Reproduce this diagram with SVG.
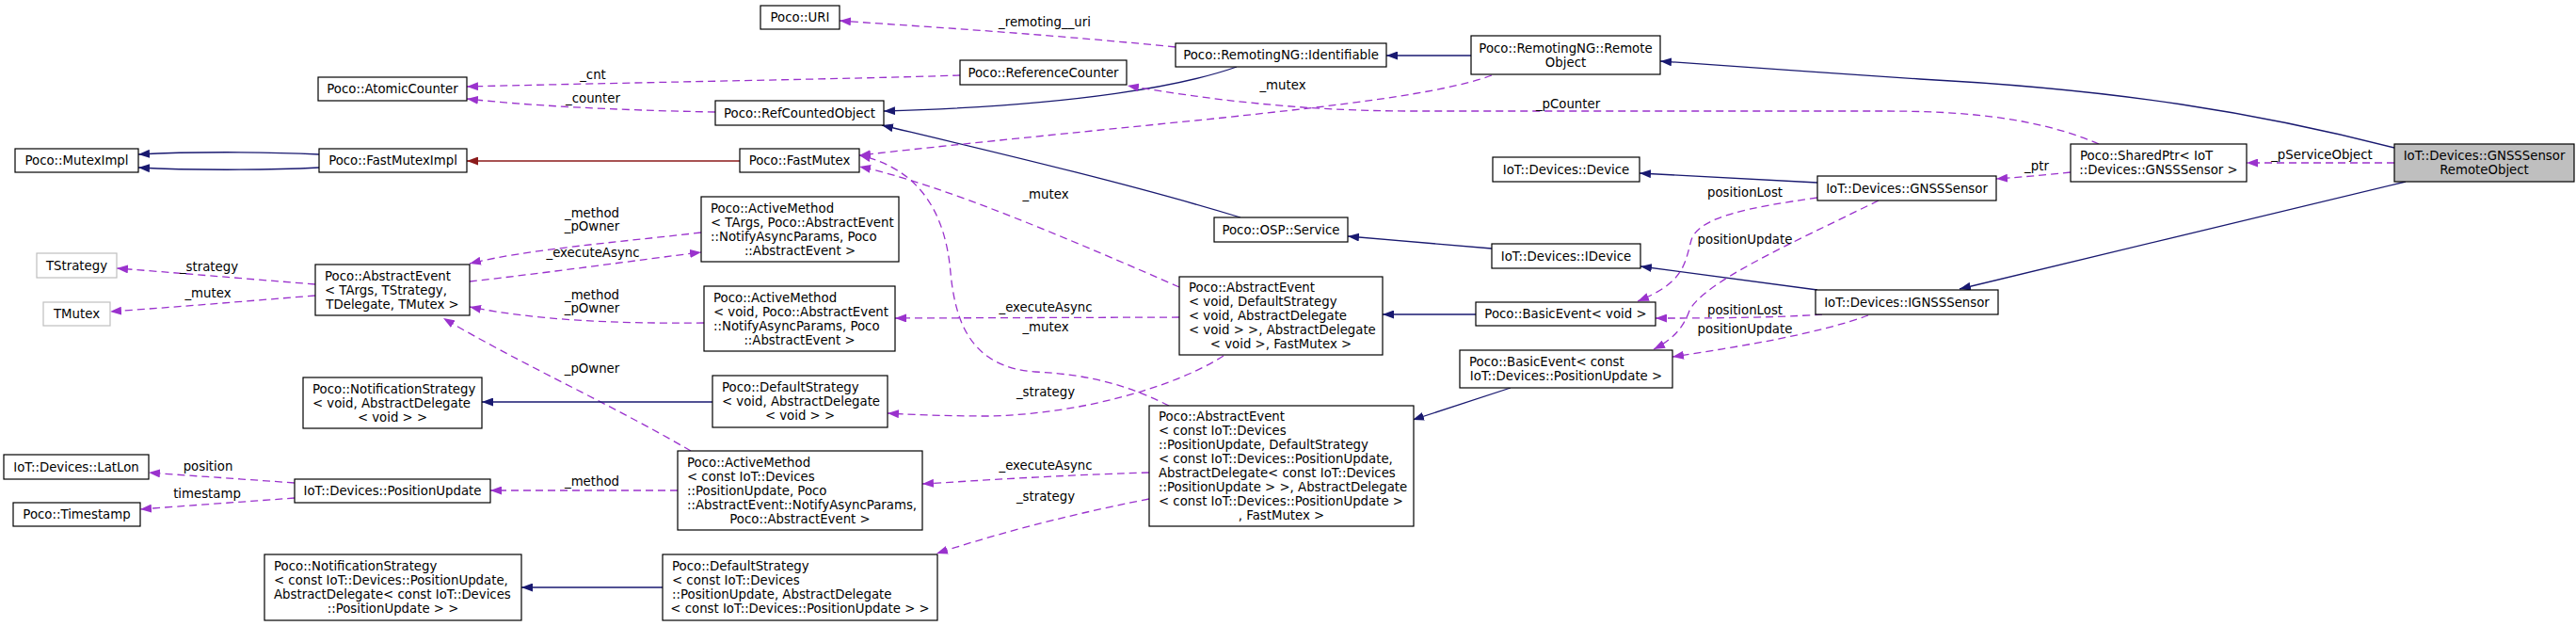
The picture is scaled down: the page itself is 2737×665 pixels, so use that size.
<svg xmlns="http://www.w3.org/2000/svg" width="2737" height="665" viewBox="0 0 2737 665">
<style>
text{font-family:"DejaVu Sans","Liberation Sans",sans-serif;font-size:13.3px;fill:#000}
.n rect{fill:#fff;stroke:#000;stroke-width:1.2}
.n.g rect{stroke:#bfbfbf}
.n.s rect{fill:#bfbfbf}
.c{text-anchor:middle}
.e path{fill:none;stroke-width:1.3}
.b{stroke:#191970;marker-end:url(#mb)}
.u{stroke:#9a32cd;stroke-dasharray:8,5;marker-end:url(#mu)}
.r{stroke:#8b1a1a;marker-end:url(#mr)}
.lb text{text-anchor:middle}
</style>
<defs>
<marker id="mb" viewBox="0 0 12 9" refX="12" refY="4.5" markerWidth="12" markerHeight="9" orient="auto" markerUnits="userSpaceOnUse"><path d="M0,0 L12,4.5 L0,9 z" fill="#191970"/></marker>
<marker id="mu" viewBox="0 0 12 9" refX="12" refY="4.5" markerWidth="12" markerHeight="9" orient="auto" markerUnits="userSpaceOnUse"><path d="M0,0 L12,4.5 L0,9 z" fill="#9a32cd"/></marker>
<marker id="mr" viewBox="0 0 12 9" refX="12" refY="4.5" markerWidth="12" markerHeight="9" orient="auto" markerUnits="userSpaceOnUse"><path d="M0,0 L12,4.5 L0,9 z" fill="#8b1a1a"/></marker>
</defs>
<rect width="2737" height="665" fill="#fff"/>
<g id="connectors" class="e">
<path class="b" d="M339,164 C280,161 200,161 147,164"/>
<path class="b" d="M339,178 C280,181 200,181 147,178"/>
<path class="r" d="M786,171 L496,171"/>
<path class="u" d="M1020,80 C900,84 700,87 496,92"/>
<path class="u" d="M760,119 C650,117 560,112 496,105"/>
<path class="u" d="M1249,50 C1100,35 960,27 892,22"/>
<path class="b" d="M1563,59 L1473,59"/>
<path class="b" d="M1314,71 C1260,90 1150,112 939,118"/>
<path class="b" d="M1318,231 C1200,195 1050,160 937,133"/>
<path class="u" d="M2230,153 C2160,123 2080,118 2000,118 L1500,118 C1380,118 1280,105 1198,91"/>
<path class="u" d="M1585,80 C1530,100 1420,112 1300,125 C1150,140 1000,155 913,165"/>
<path class="u" d="M1253,305 C1150,260 1000,195 913,177"/>
<path class="u" d="M1242,431 C1200,410 1160,398 1100,395 C1030,390 1015,340 1010,290 C1005,230 980,180 913,165"/>
<path class="u" d="M745,247 C650,258 560,265 499,280"/>
<path class="u" d="M499,299 C580,290 680,276 745,268"/>
<path class="u" d="M748,343 C650,344 570,340 499,326"/>
<path class="u" d="M734,479 C650,430 550,385 471,338"/>
<path class="u" d="M335,302 C260,296 190,290 124,285"/>
<path class="u" d="M335,314 C260,320 190,326 117,331"/>
<path class="u" d="M1253,337 L951,338"/>
<path class="u" d="M1300,378 C1250,410 1150,440 1050,442 C1000,442 960,440 943,439"/>
<path class="b" d="M757,427 L512,427"/>
<path class="u" d="M1221,502 C1120,505 1050,510 980,514"/>
<path class="u" d="M1221,530 C1120,550 1050,570 995,588"/>
<path class="b" d="M704,624 L554,624"/>
<path class="u" d="M720,521 L521,521"/>
<path class="u" d="M313,513 C260,509 210,506 158,502"/>
<path class="u" d="M313,529 C260,533 200,537 149,541"/>
<path class="b" d="M1585,264 L1432,251"/>
<path class="b" d="M1931,194 L1742,184"/>
<path class="b" d="M1931,308 L1743,283"/>
<path class="b" d="M1568,334 L1469,334"/>
<path class="b" d="M1605,412 L1501,446"/>
<path class="u" d="M1931,210 C1860,220 1805,230 1797,255 C1790,280 1790,300 1740,320"/>
<path class="u" d="M1996,213 C1900,260 1810,300 1795,330 C1788,350 1775,362 1757,371"/>
<path class="u" d="M1936,334 C1880,338 1800,338 1759,338"/>
<path class="u" d="M1985,335 C1930,355 1850,368 1777,379"/>
<path class="u" d="M2200,183 C2170,186 2150,188 2121,190"/>
<path class="u" d="M2544,173 L2387,173"/>
<path class="b" d="M2544,157 C2400,120 2250,95 2040,84 C1950,78 1850,71 1764,65"/>
<path class="b" d="M2556,193 L2082,307"/>
</g>
<g id="edge-labels" class="lb">
<text x="630" y="84">_cnt</text>
<text x="630" y="109">_counter</text>
<text x="1110" y="28">_remoting__uri</text>
<text x="1666" y="115">_pCounter</text>
<text x="1363" y="95">_mutex</text>
<text x="1111" y="211">_mutex</text>
<text x="1111" y="352">_mutex</text>
<text x="629" y="231">_method</text>
<text x="629" y="245">_pOwner</text>
<text x="630" y="273">_executeAsync</text>
<text x="629" y="318">_method</text>
<text x="629" y="332">_pOwner</text>
<text x="629" y="396">_pOwner</text>
<text x="222" y="288">_strategy</text>
<text x="221" y="316">_mutex</text>
<text x="1111" y="331">_executeAsync</text>
<text x="1111" y="421">_strategy</text>
<text x="1111" y="499">_executeAsync</text>
<text x="1111" y="532">_strategy</text>
<text x="629" y="516">_method</text>
<text x="221" y="500">position</text>
<text x="220" y="529">timestamp</text>
<text x="1854" y="209">positionLost</text>
<text x="1854" y="259">positionUpdate</text>
<text x="1854" y="334">positionLost</text>
<text x="1854" y="354">positionUpdate</text>
<text x="2164" y="181">_ptr</text>
<text x="2467" y="169">_pServiceObject</text>
</g>
<g id="n-mutex-impl" class="n"><rect x="16" y="158" width="131" height="25"/><text class="c" x="81.5" y="175">Poco::MutexImpl</text></g>
<g id="n-fast-mutex-impl" class="n"><rect x="339" y="158" width="157" height="25"/><text class="c" x="417.5" y="175">Poco::FastMutexImpl</text></g>
<g id="n-atomic-counter" class="n"><rect x="338" y="82" width="158" height="25"/><text class="c" x="417" y="99">Poco::AtomicCounter</text></g>
<g id="n-tstrategy" class="n g"><rect x="39" y="269" width="85" height="26"/><text class="c" x="81.5" y="286.5">TStrategy</text></g>
<g id="n-tmutex" class="n g"><rect x="46" y="321" width="71" height="25"/><text class="c" x="81.5" y="338">TMutex</text></g>
<g id="n-abstract-event-targs" class="n"><rect x="335" y="281" width="164" height="54"/><text x="345" y="297.5">Poco::AbstractEvent</text><text x="345" y="312.5">&lt; TArgs, TStrategy,</text><text class="c" x="417" y="327.5">TDelegate, TMutex &gt;</text></g>
<g id="n-notification-strategy-void" class="n"><rect x="322" y="401" width="190" height="54"/><text x="332" y="417.5">Poco::NotificationStrategy</text><text x="332" y="432.5">&lt; void, AbstractDelegate</text><text class="c" x="417" y="447.5">&lt; void &gt; &gt;</text></g>
<g id="n-latlon" class="n"><rect x="4" y="483" width="154" height="26"/><text class="c" x="81" y="500.5">IoT::Devices::LatLon</text></g>
<g id="n-timestamp" class="n"><rect x="14" y="534" width="135" height="25"/><text class="c" x="81.5" y="551">Poco::Timestamp</text></g>
<g id="n-position-update" class="n"><rect x="313" y="509" width="208" height="25"/><text class="c" x="417" y="526">IoT::Devices::PositionUpdate</text></g>
<g id="n-notification-strategy-const" class="n"><rect x="281" y="589" width="273" height="70"/><text x="291" y="606">Poco::NotificationStrategy</text><text x="291" y="621">&lt; const IoT::Devices::PositionUpdate,</text><text x="291" y="636"> AbstractDelegate&lt; const IoT::Devices</text><text class="c" x="417.5" y="651">::PositionUpdate &gt; &gt;</text></g>
<g id="n-uri" class="n"><rect x="808" y="6" width="84" height="25"/><text class="c" x="850" y="23">Poco::URI</text></g>
<g id="n-identifiable" class="n"><rect x="1249" y="46" width="224" height="25"/><text class="c" x="1361" y="63">Poco::RemotingNG::Identifiable</text></g>
<g id="n-reference-counter" class="n"><rect x="1020" y="64" width="177" height="26"/><text class="c" x="1108.5" y="81.5">Poco::ReferenceCounter</text></g>
<g id="n-ref-counted-object" class="n"><rect x="760" y="107" width="179" height="26"/><text class="c" x="849.5" y="124.5">Poco::RefCountedObject</text></g>
<g id="n-fast-mutex" class="n"><rect x="786" y="158" width="127" height="25"/><text class="c" x="849.5" y="175">Poco::FastMutex</text></g>
<g id="n-active-method-targs" class="n"><rect x="745" y="209" width="210" height="69"/><text x="755" y="225.5">Poco::ActiveMethod</text><text x="755" y="240.5">&lt; TArgs, Poco::AbstractEvent</text><text x="755" y="255.5">::NotifyAsyncParams, Poco</text><text class="c" x="850" y="270.5">::AbstractEvent &gt;</text></g>
<g id="n-active-method-void" class="n"><rect x="748" y="304" width="203" height="69"/><text x="758" y="320.5">Poco::ActiveMethod</text><text x="758" y="335.5">&lt; void, Poco::AbstractEvent</text><text x="758" y="350.5">::NotifyAsyncParams, Poco</text><text class="c" x="849.5" y="365.5">::AbstractEvent &gt;</text></g>
<g id="n-osp-service" class="n"><rect x="1290" y="231" width="142" height="26"/><text class="c" x="1361" y="248.5">Poco::OSP::Service</text></g>
<g id="n-abstract-event-void" class="n"><rect x="1253" y="294" width="216" height="83"/><text x="1263" y="310">Poco::AbstractEvent</text><text x="1263" y="325">&lt; void, DefaultStrategy</text><text x="1263" y="340">&lt; void, AbstractDelegate</text><text x="1263" y="355">&lt; void &gt; &gt;, AbstractDelegate</text><text class="c" x="1361" y="370">&lt; void &gt;, FastMutex &gt;</text></g>
<g id="n-default-strategy-void" class="n"><rect x="757" y="399" width="186" height="55"/><text x="767" y="416">Poco::DefaultStrategy</text><text x="767" y="431">&lt; void, AbstractDelegate</text><text class="c" x="850" y="446">&lt; void &gt; &gt;</text></g>
<g id="n-active-method-const" class="n"><rect x="720" y="479" width="260" height="84"/><text x="730" y="495.5">Poco::ActiveMethod</text><text x="730" y="510.5">&lt; const IoT::Devices</text><text x="730" y="525.5">::PositionUpdate, Poco</text><text x="730" y="540.5">::AbstractEvent::NotifyAsyncParams,</text><text class="c" x="850" y="555.5">Poco::AbstractEvent &gt;</text></g>
<g id="n-default-strategy-const" class="n"><rect x="704" y="589" width="292" height="70"/><text x="714" y="606">Poco::DefaultStrategy</text><text x="714" y="621">&lt; const IoT::Devices</text><text x="714" y="636">::PositionUpdate, AbstractDelegate</text><text class="c" x="850" y="651">&lt; const IoT::Devices::PositionUpdate &gt; &gt;</text></g>
<g id="n-abstract-event-const" class="n"><rect x="1221" y="431" width="281" height="128"/><text x="1231" y="447">Poco::AbstractEvent</text><text x="1231" y="462">&lt; const IoT::Devices</text><text x="1231" y="477">::PositionUpdate, DefaultStrategy</text><text x="1231" y="492">&lt; const IoT::Devices::PositionUpdate,</text><text x="1231" y="507"> AbstractDelegate&lt; const IoT::Devices</text><text x="1231" y="522">::PositionUpdate &gt; &gt;, AbstractDelegate</text><text x="1231" y="537">&lt; const IoT::Devices::PositionUpdate &gt;</text><text class="c" x="1361.5" y="552">, FastMutex &gt;</text></g>
<g id="n-remote-object" class="n"><rect x="1563" y="38" width="201" height="41"/><text class="c" x="1663.5" y="55.5">Poco::RemotingNG::Remote</text><text class="c" x="1663.5" y="70.5">Object</text></g>
<g id="n-device" class="n"><rect x="1586" y="167" width="156" height="26"/><text class="c" x="1664" y="184.5">IoT::Devices::Device</text></g>
<g id="n-gnss-sensor" class="n"><rect x="1931" y="187" width="190" height="26"/><text class="c" x="2026" y="204.5">IoT::Devices::GNSSSensor</text></g>
<g id="n-idevice" class="n"><rect x="1585" y="259" width="158" height="26"/><text class="c" x="1664" y="276.5">IoT::Devices::IDevice</text></g>
<g id="n-ignss-sensor" class="n"><rect x="1929" y="308" width="194" height="26"/><text class="c" x="2026" y="325.5">IoT::Devices::IGNSSSensor</text></g>
<g id="n-basic-event-void" class="n"><rect x="1568" y="321" width="191" height="25"/><text class="c" x="1663.5" y="338">Poco::BasicEvent&lt; void &gt;</text></g>
<g id="n-basic-event-const" class="n"><rect x="1551" y="372" width="226" height="40"/><text x="1561" y="388.5">Poco::BasicEvent&lt; const</text><text class="c" x="1664" y="403.5">IoT::Devices::PositionUpdate &gt;</text></g>
<g id="n-shared-ptr" class="n"><rect x="2200" y="153" width="187" height="40"/><text x="2210" y="169.5">Poco::SharedPtr&lt; IoT</text><text class="c" x="2293.5" y="184.5">::Devices::GNSSSensor &gt;</text></g>
<g id="n-gnss-sensor-remote-object" class="n s"><rect x="2544" y="153" width="191" height="40"/><text class="c" x="2639.5" y="169.5">IoT::Devices::GNSSSensor</text><text class="c" x="2639.5" y="184.5">RemoteObject</text></g>
</svg>
